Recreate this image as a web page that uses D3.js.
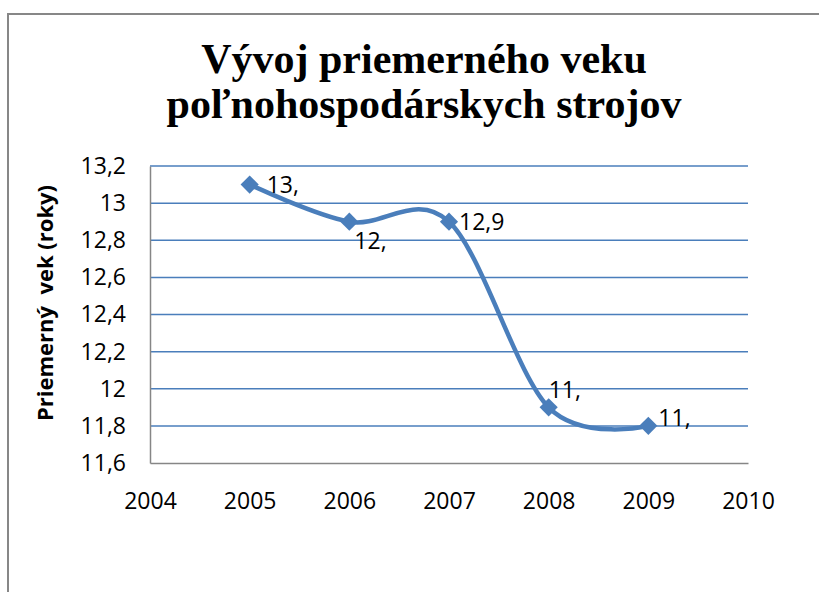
<!DOCTYPE html>
<html>
<head>
<meta charset="utf-8">
<script src="https://cdn.jsdelivr.net/npm/d3@7"></script>
<style>
  body { margin: 0; background: #fff; }
  svg { display: block; }
</style>
</head>
<body>
<script>
// chart data
var years = [2005, 2006, 2007, 2008, 2009];
var ages = [13.1, 12.9, 12.9, 11.9, 11.8];
var pointLabels = ["13,", "12,", "12,9", "11,", "11,"];
var yTicks = [11.6, 11.8, 12.0, 12.2, 12.4, 12.6, 12.8, 13.0, 13.2];
var xTicks = [2004, 2005, 2006, 2007, 2008, 2009, 2010];
var titleLines = ["Vývoj priemerného veku", "poľnohospodárskych strojov"];
var yTitle = "Priemerný  vek (roky)";

// where each data label sits relative to its marker
var labelShift = [[17, 0], [5, 19], [10, 0], [0, -17], [10, -8]];

var W = 819, H = 592;
var blue = "#4a7ebb", gray = "#868686";
var sans = "'Open Sans', 'Liberation Sans', sans-serif";

var svg = d3.select("body").append("svg").attr("width", W).attr("height", H);

// outer chart frame (only top and left edges visible)
svg.append("path")
    .attr("d", "M8,592 L8,14 L819,14")
    .attr("fill", "none").attr("stroke", "#878787").attr("stroke-width", 2);

var x = d3.scaleLinear().domain([2004, 2010]).range([150, 748]);
var y = d3.scaleLinear().domain([11.6, 13.2]).range([463, 166]);

// title
svg.append("text")
    .attr("text-anchor", "middle")
    .attr("font-family", "'Liberation Serif', 'Times New Roman', serif")
    .attr("font-weight", "bold")
    .attr("font-size", 42)
    .selectAll("tspan")
    .data(titleLines)
    .enter()
    .append("tspan")
    .attr("x", 424)
    .attr("y", function (d, i) { return 73 + i * 45; })
    .text(function (d) { return d; });

// gridlines
svg.append("g")
    .selectAll("line")
    .data(yTicks.filter(function (d) { return d > 11.6; }))
    .enter()
    .append("line")
    .attr("x1", x(2004)).attr("x2", x(2010))
    .attr("y1", function (d) { return y(d); })
    .attr("y2", function (d) { return y(d); })
    .attr("stroke", blue).attr("stroke-width", 1.5);

// axes
var fmt = function (d) { return d3.format("")(+d.toFixed(1)).replace(".", ","); };

var yAxis = svg.append("g")
    .attr("transform", "translate(" + x(2004) + ",0)")
    .call(d3.axisLeft(y).tickValues(yTicks).tickSize(0).tickPadding(24).tickFormat(fmt));

var xAxis = svg.append("g")
    .attr("transform", "translate(0," + y(11.6) + ")")
    .call(d3.axisBottom(x).tickValues(xTicks).tickSize(0).tickPadding(30).tickFormat(d3.format("d")));

[yAxis, xAxis].forEach(function (g) {
    g.select(".domain").attr("stroke", gray).attr("stroke-width", 1.5);
    g.selectAll("text")
        .attr("font-family", sans)
        .attr("font-size", 23)
        .attr("fill", "#000");
});

// y axis title
svg.append("text")
    .attr("transform", "translate(53,303) rotate(-90)")
    .attr("text-anchor", "middle")
    .attr("font-family", sans)
    .attr("font-weight", "bold")
    .attr("font-size", 22)
    .style("white-space", "pre")
    .text(yTitle);

// smoothed line
var pts = years.map(function (yr, i) { return [yr, ages[i]]; });

var line = d3.line()
    .x(function (d) { return x(d[0]); })
    .y(function (d) { return y(d[1]); })
    .curve(d3.curveCardinal.tension(0));

svg.append("path")
    .datum(pts)
    .attr("d", line)
    .attr("fill", "none")
    .attr("stroke", blue)
    .attr("stroke-width", 4.5);

// diamond markers
svg.append("g")
    .selectAll("path")
    .data(pts)
    .enter()
    .append("path")
    .attr("d", d3.symbol(d3.symbolSquare, 165))
    .attr("transform", function (d) {
        return "translate(" + x(d[0]) + "," + y(d[1]) + ") rotate(45)";
    })
    .attr("fill", blue);

// data labels
svg.append("g")
    .selectAll("text")
    .data(pts)
    .enter()
    .append("text")
    .attr("x", function (d, i) { return x(d[0]) + labelShift[i][0]; })
    .attr("y", function (d, i) { return y(d[1]) + labelShift[i][1]; })
    .attr("dy", "0.35em")
    .attr("font-family", sans)
    .attr("font-size", 23)
    .text(function (d, i) { return pointLabels[i]; });
</script>
</body>
</html>
